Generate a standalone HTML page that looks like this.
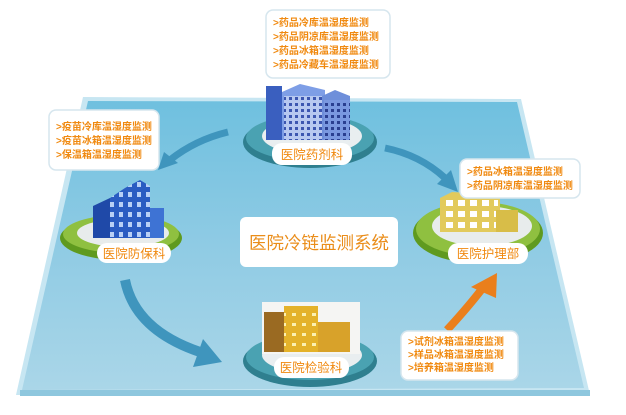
<!DOCTYPE html>
<html><head><meta charset="utf-8"><style>
html,body{margin:0;padding:0;background:#fff;}
svg{display:block;}
text{font-family:"Liberation Sans","Noto Sans CJK SC",sans-serif;}
.t{fill:#f0890f;font-size:10px;font-weight:bold;}
.lb{fill:#f0890f;font-size:12.5px;}
</style></head><body>
<svg width="626" height="415" viewBox="0 0 626 415" xmlns="http://www.w3.org/2000/svg">
<defs>
<linearGradient id="pl" x1="0" y1="0" x2="0" y2="1">
<stop offset="0" stop-color="#6fc0df"/><stop offset="0.5" stop-color="#8fcbe4"/><stop offset="1" stop-color="#aad6e8"/>
</linearGradient>
<pattern id="wb" width="6" height="6" patternUnits="userSpaceOnUse"><rect width="6" height="6" fill="#b7c8f0"/><rect x="1" y="1" width="3" height="3" fill="#3c56b0"/></pattern>
<pattern id="wb2" width="6" height="6" patternUnits="userSpaceOnUse"><rect width="6" height="6" fill="#7a98e0"/><rect x="1" y="1" width="3" height="3" fill="#2a3f90"/></pattern>
<pattern id="wbl" width="9" height="10" patternUnits="userSpaceOnUse"><rect width="9" height="10" fill="#2a5cc2"/><rect x="2" y="2" width="4" height="5" fill="#b8d0f6"/></pattern>
<pattern id="wy" width="12" height="11" patternUnits="userSpaceOnUse"><rect width="12" height="11" fill="#e2ca5c"/><rect x="2" y="2" width="7" height="6" fill="#fff"/></pattern>
<pattern id="wo" width="10" height="10" patternUnits="userSpaceOnUse"><rect width="10" height="10" fill="#e4b22a"/><rect x="2" y="3" width="4" height="3" fill="#fbf0b0"/></pattern>
</defs>
<!-- plane -->
<polygon points="83,97 521,99 590,395 16,395" fill="#c7e6f2"/>
<polygon points="88,101 517,102 584,388 22,390" fill="url(#pl)"/>
<rect x="20" y="390" width="570" height="6" fill="#8ec7de"/>

<!-- arrows -->
<path d="M228,132 Q195,140 170,160" stroke="#3f95bd" stroke-width="7" fill="none"/>
<polygon points="158,170 164,152 178,163" fill="#3f95bd"/>
<path d="M385,148 Q420,155 445,178" stroke="#3f95bd" stroke-width="7" fill="none"/>
<polygon points="458,192 437,184 451,170" fill="#3f95bd"/>
<path d="M125,280 Q135,330 200,352" stroke="#3f95bd" stroke-width="10" fill="none"/>
<polygon points="222,362 193,367 203,339" fill="#3f95bd"/>
<path d="M447,330 Q470,305 485,285" stroke="#ea7f1c" stroke-width="8" fill="none"/>
<polygon points="497,273 496,298 471,287" fill="#ea7f1c"/>

<!-- center box -->
<rect x="240" y="217" width="158" height="50" rx="6" fill="#fff"/>
<text x="319" y="249" text-anchor="middle" style="fill:#ea8d1a;font-size:17.5px">医院冷链监测系统</text>

<!-- 药剂科 -->
<ellipse cx="310" cy="142" rx="67" ry="26" fill="#2f7f8f"/>
<ellipse cx="310" cy="138" rx="64" ry="23" fill="#4aa2b2"/>
<ellipse cx="312" cy="136" rx="50" ry="18" fill="#e9eef0"/>
<polygon points="282,92 300,84 325,90 325,140 282,140" fill="#7e9ee6"/>
<rect x="284" y="96" width="38" height="44" fill="url(#wb)"/>
<polygon points="322,96 335,90 350,96 350,140 322,140" fill="#6e8fda"/>
<rect x="324" y="100" width="26" height="40" fill="url(#wb2)"/>
<rect x="266" y="86" width="16" height="54" fill="#3a5fbf"/>
<rect x="272" y="143" width="80" height="22" rx="10" fill="#fff"/>
<text x="312" y="159" text-anchor="middle" class="lb">医院药剂科</text>
<rect x="266" y="10" width="124" height="68" rx="7" fill="#fff" stroke="#d6e6ee" stroke-width="1.5"/>
<text x="273" y="26" class="t">&gt;药品冷库温湿度监测</text>
<text x="273" y="40" class="t">&gt;药品阴凉库温湿度监测</text>
<text x="273" y="54" class="t">&gt;药品冰箱温湿度监测</text>
<text x="273" y="68" class="t">&gt;药品冷藏车温湿度监测</text>

<!-- 防保科 -->
<ellipse cx="121" cy="238" rx="61" ry="22" fill="#5f9a1f"/>
<ellipse cx="121" cy="234" rx="58" ry="19" fill="#8fc040"/>
<ellipse cx="123" cy="233" rx="46" ry="14" fill="#e8ecec"/>
<polygon points="93,206 110,198 110,238 93,238" fill="#1f49a8"/>
<polygon points="110,198 125,188 140,180 150,186 150,238 110,238" fill="url(#wbl)"/>
<rect x="150" y="208" width="14" height="30" fill="#3e73d4"/>
<rect x="97" y="243" width="74" height="20" rx="10" fill="#fff"/>
<text x="134" y="258" text-anchor="middle" class="lb">医院防保科</text>
<rect x="49" y="110" width="110" height="60" rx="7" fill="#fff" stroke="#d6e6ee" stroke-width="1.5"/>
<text x="56" y="130" class="t">&gt;疫苗冷库温湿度监测</text>
<text x="56" y="144" class="t">&gt;疫苗冰箱温湿度监测</text>
<text x="56" y="158" class="t">&gt;保温箱温湿度监测</text>

<!-- 护理部 -->
<ellipse cx="478" cy="233" rx="65" ry="30" fill="#5f9a1f"/>
<ellipse cx="478" cy="229" rx="62" ry="27" fill="#8fc040"/>
<ellipse cx="482" cy="226" rx="50" ry="20" fill="#e8ecec"/>
<polygon points="440,198 452,192 500,195 500,232 440,232" fill="#e2ca5c"/>
<rect x="442" y="200" width="56" height="32" fill="url(#wy)"/>
<rect x="496" y="210" width="22" height="22" fill="#d8bd48"/>
<rect x="448" y="243" width="80" height="21" rx="10" fill="#fff"/>
<text x="488" y="258" text-anchor="middle" class="lb">医院护理部</text>
<rect x="460" y="159" width="120" height="39" rx="7" fill="#fff" stroke="#d6e6ee" stroke-width="1.5"/>
<text x="467" y="175" class="t">&gt;药品冰箱温湿度监测</text>
<text x="467" y="189" class="t">&gt;药品阴凉库温湿度监测</text>

<!-- 检验科 -->
<ellipse cx="310" cy="361" rx="67" ry="26" fill="#2f7f8f"/>
<ellipse cx="310" cy="357" rx="64" ry="23" fill="#4aa2b2"/>
<ellipse cx="312" cy="355" rx="50" ry="18" fill="#e9eef0"/>
<rect x="262" y="302" width="98" height="52" fill="#f5f5f3"/>
<rect x="264" y="312" width="20" height="40" fill="#9a6a22"/>
<rect x="284" y="306" width="34" height="46" fill="url(#wo)"/>
<rect x="318" y="322" width="32" height="30" fill="#d8a22a"/>
<rect x="274" y="357" width="75" height="21" rx="10" fill="#fff"/>
<text x="311" y="372" text-anchor="middle" class="lb">医院检验科</text>
<rect x="401" y="331" width="117" height="49" rx="7" fill="#fff" stroke="#d6e6ee" stroke-width="1.5"/>
<text x="408" y="345" class="t">&gt;试剂冰箱温湿度监测</text>
<text x="408" y="358" class="t">&gt;样品冰箱温湿度监测</text>
<text x="408" y="371" class="t">&gt;培养箱温湿度监测</text>
</svg>
</body></html>
